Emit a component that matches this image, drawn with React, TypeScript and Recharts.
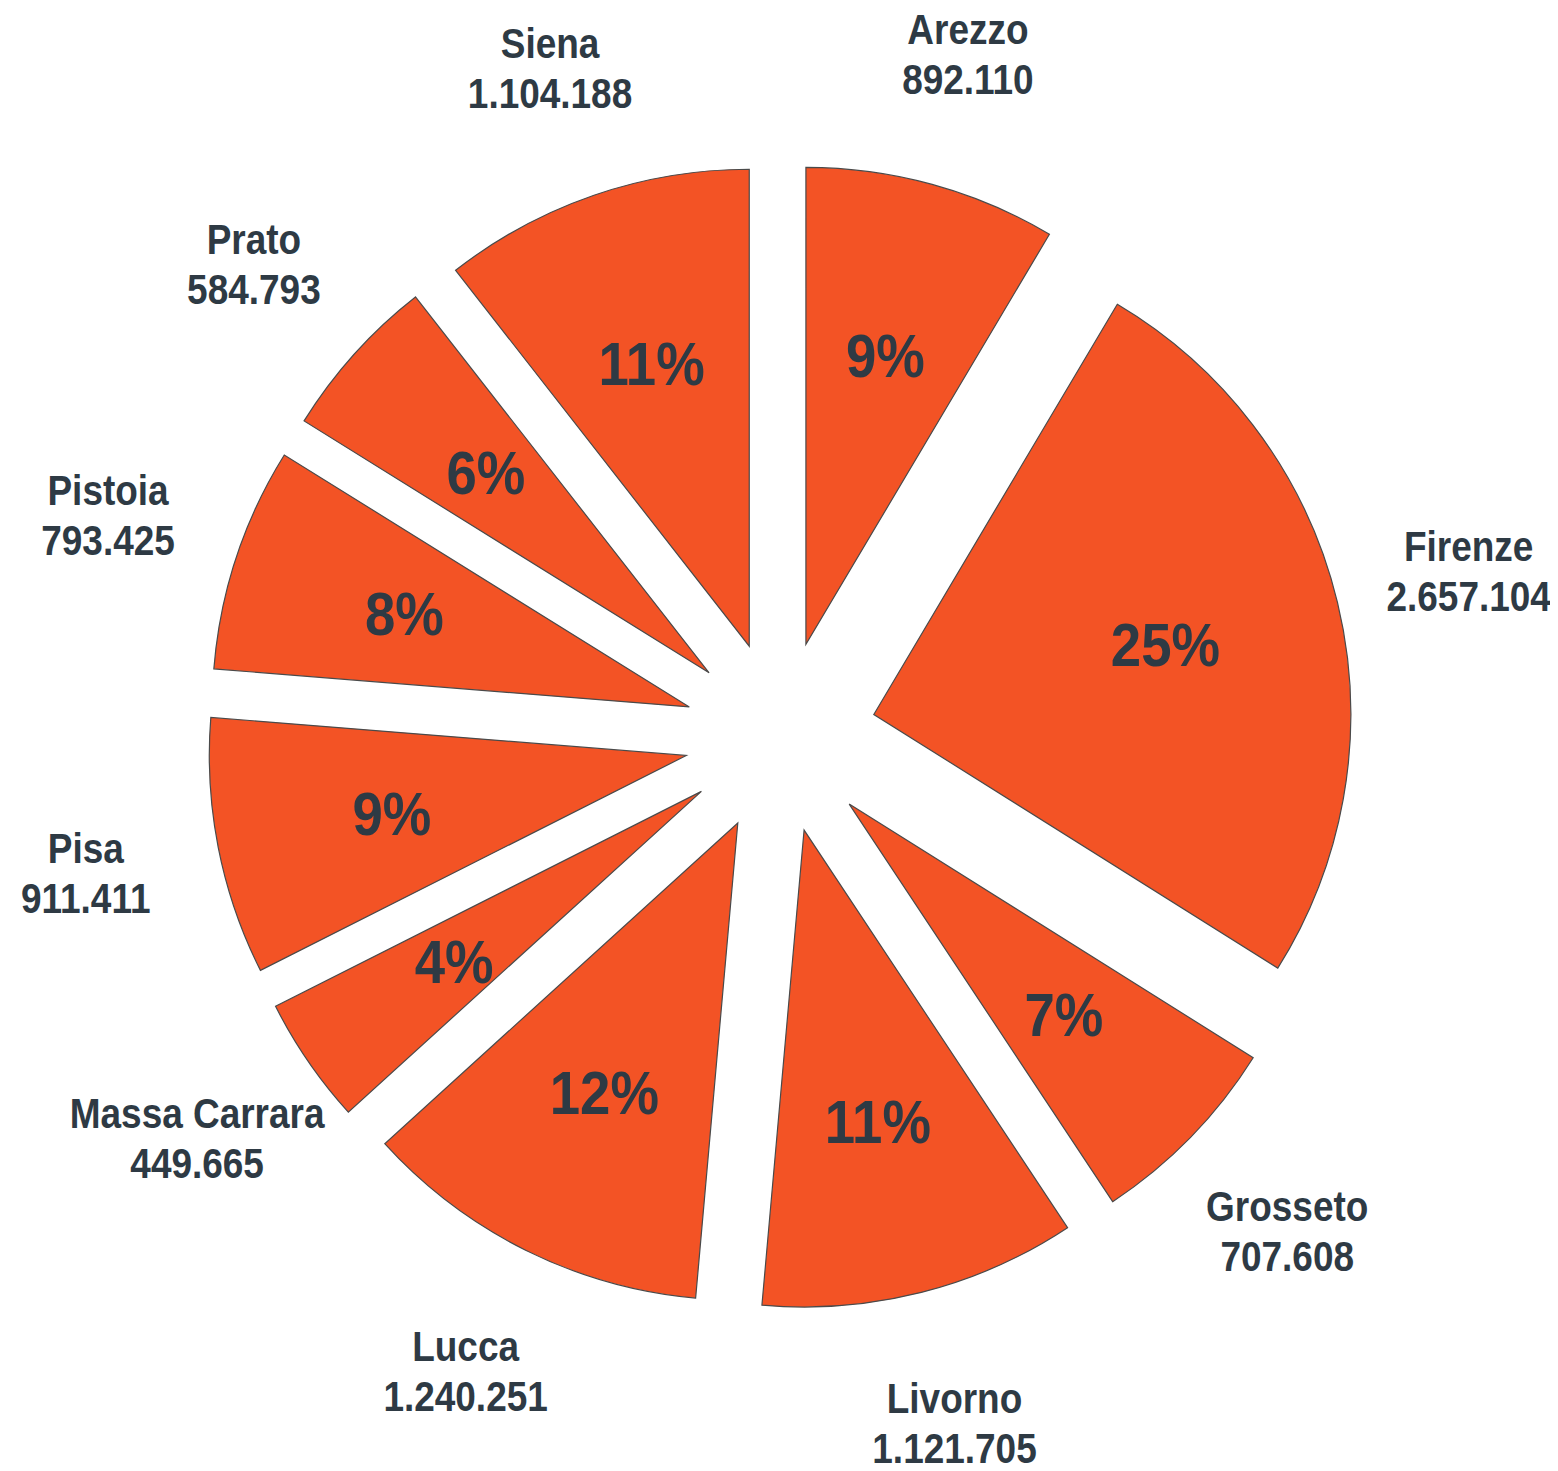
import React from 'react';
import { PieChart, Pie, Sector } from 'recharts';

const provinces = ['Arezzo', 'Firenze', 'Grosseto', 'Livorno', 'Lucca', 'Massa Carrara', 'Pisa', 'Pistoia', 'Prato', 'Siena'];
const population = [892110, 2657104, 707608, 1121705, 1240251, 449665, 911411, 793425, 584793, 1104188];
const valueLabels = ['892.110', '2.657.104', '707.608', '1.121.705', '1.240.251', '449.665', '911.411', '793.425', '584.793', '1.104.188'];

const data = provinces.map((name, i) => ({ name, value: population[i], label: valueLabels[i] }));

const FILL = '#F35325';
const STROKE = '#4a4a4a';
const TEXT = '#2E3A44';
const FONT = '"Liberation Sans", Arial, sans-serif';
const NARROW = 0.88;

const EXPLODE = 96;
const PCT_R = 396;
const LABEL_R = 708;
const RAD = Math.PI / 180;

const NarrowText = ({ x, y, size, children }: any) => (
  <text
    transform={`translate(${x},${y}) scale(${NARROW},1)`}
    x={0}
    y={0}
    textAnchor="middle"
    fill={TEXT}
    fontFamily={FONT}
    fontWeight="bold"
    fontSize={size}
  >
    {children}
  </text>
);

const renderSlice = (props: any) => {
  const { cx, cy, innerRadius, outerRadius, startAngle, endAngle, percent, payload, index } = props;
  const mid = (startAngle + endAngle) / 2;
  const ux = Math.cos(mid * RAD);
  const uy = -Math.sin(mid * RAD);
  const ox = cx + ux * EXPLODE;
  const oy = cy + uy * EXPLODE;
  const px = cx + ux * PCT_R;
  const py = cy + uy * PCT_R;
  const lx = cx + ux * LABEL_R;
  const ly = cy + uy * LABEL_R;
  return (
    <g key={`slice-${index}`}>
      <Sector
        cx={ox}
        cy={oy}
        innerRadius={innerRadius}
        outerRadius={outerRadius}
        startAngle={startAngle}
        endAngle={endAngle}
        fill={FILL}
        stroke={STROKE}
        strokeWidth={1.2}
      />
      <NarrowText x={px} y={py + 22} size={62}>{`${Math.round(percent * 100)}%`}</NarrowText>
      <NarrowText x={lx} y={ly - 10} size={42}>{payload.name}</NarrowText>
      <NarrowText x={lx} y={ly + 40} size={42}>{payload.label}</NarrowText>
    </g>
  );
};

export default function App() {
  return (
    <PieChart width={1550} height={1463} margin={{ top: 0, right: 0, bottom: 0, left: 0 }}>
      <Pie
        data={data}
        dataKey="value"
        nameKey="name"
        cx={772.5}
        cy={729}
        innerRadius={0}
        outerRadius={477}
        startAngle={90}
        endAngle={-270}
        fill="transparent"
        stroke="none"
        label={renderSlice}
        labelLine={false}
        isAnimationActive={false}
      />
    </PieChart>
  );
}
